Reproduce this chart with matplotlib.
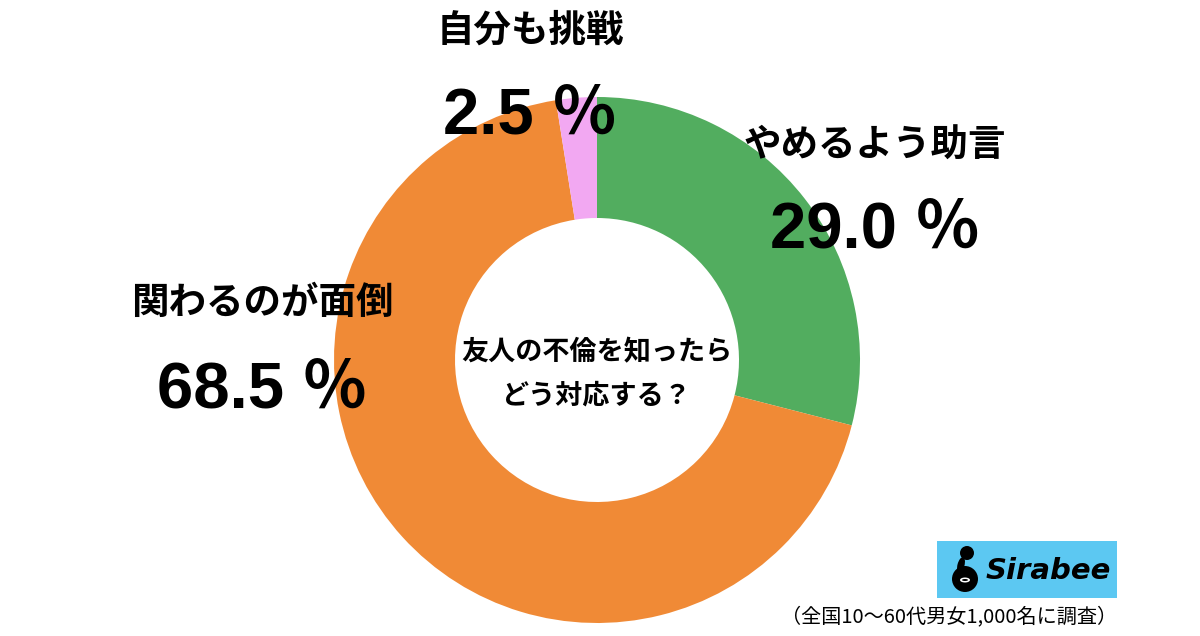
import matplotlib.pyplot as plt
from matplotlib.patches import Circle, Rectangle, Ellipse

plt.rcParams['font.family'] = ['Noto Sans CJK JP', 'DejaVu Sans']

# data
labels = ["やめるよう助言", "関わるのが面倒", "自分も挑戦"]
values = [29.0, 68.5, 2.5]
colors = ["#52ad5f", "#f08a36", "#f2a8f2"]
title_lines = ["友人の不倫を知ったら", "どう対応する？"]
note = "（全国10～60代男女1,000名に調査）"

W, H = 1200, 636
fig = plt.figure(figsize=(12, 6.36), dpi=100)
ax = fig.add_axes([0, 0, 1, 1])


def py(y):
    # pixel row from top -> data y
    return H - y


cx, cy = 597, py(360)
ax.pie(values, colors=colors, startangle=90, counterclock=False,
       center=(cx, cy), radius=263,
       wedgeprops=dict(width=121, linewidth=0), frame=True)
ax.set_xlim(0, W)
ax.set_ylim(0, H)
ax.set_aspect("equal")
ax.axis("off")

# center question
ax.text(cx, py(352), title_lines[0], ha="center", va="center",
        fontsize=19.5, fontweight="bold")
ax.text(cx, py(396), title_lines[1], ha="center", va="center",
        fontsize=19.5, fontweight="bold")

# slice labels: (label x, label y, value y)
pos = [(875, 145, 231), (262, 302, 391), (530, 30, 117)]
for (lx, ly, vy), lab, v in zip(pos, labels, values):
    ax.text(lx, py(ly), lab, ha="center", va="center",
            fontsize=27, fontweight="bold")
    ax.text(lx, py(vy), f"{v:.1f} ％", ha="center", va="center",
            fontsize=47, fontweight="bold",
            family=["Liberation Sans", "Noto Sans CJK JP"])

# Sirabee logo
ax.add_patch(Rectangle((937, py(598)), 180, 57, color="#5cc8f2", lw=0))
ax.add_patch(Circle((965, py(579)), 13, color="black", lw=0))
ax.add_patch(Circle((967, py(553)), 7, color="black", lw=0))
ax.add_patch(Ellipse((961, py(565)), 7, 16, angle=-15, color="black", lw=0))
ax.add_patch(Ellipse((965, py(580)), 10, 5, color="white", lw=0))
ax.add_patch(Ellipse((965, py(580)), 6, 2, color="black", lw=0))
ax.text(1048, py(571), "Sirabee", ha="center", va="center",
        fontsize=21, fontweight="bold", style="italic",
        family="DejaVu Sans")

# footnote
ax.text(1117, py(617), note, ha="right", va="center", fontsize=14.5)

fig.savefig("out.png", dpi=100, facecolor="white")
